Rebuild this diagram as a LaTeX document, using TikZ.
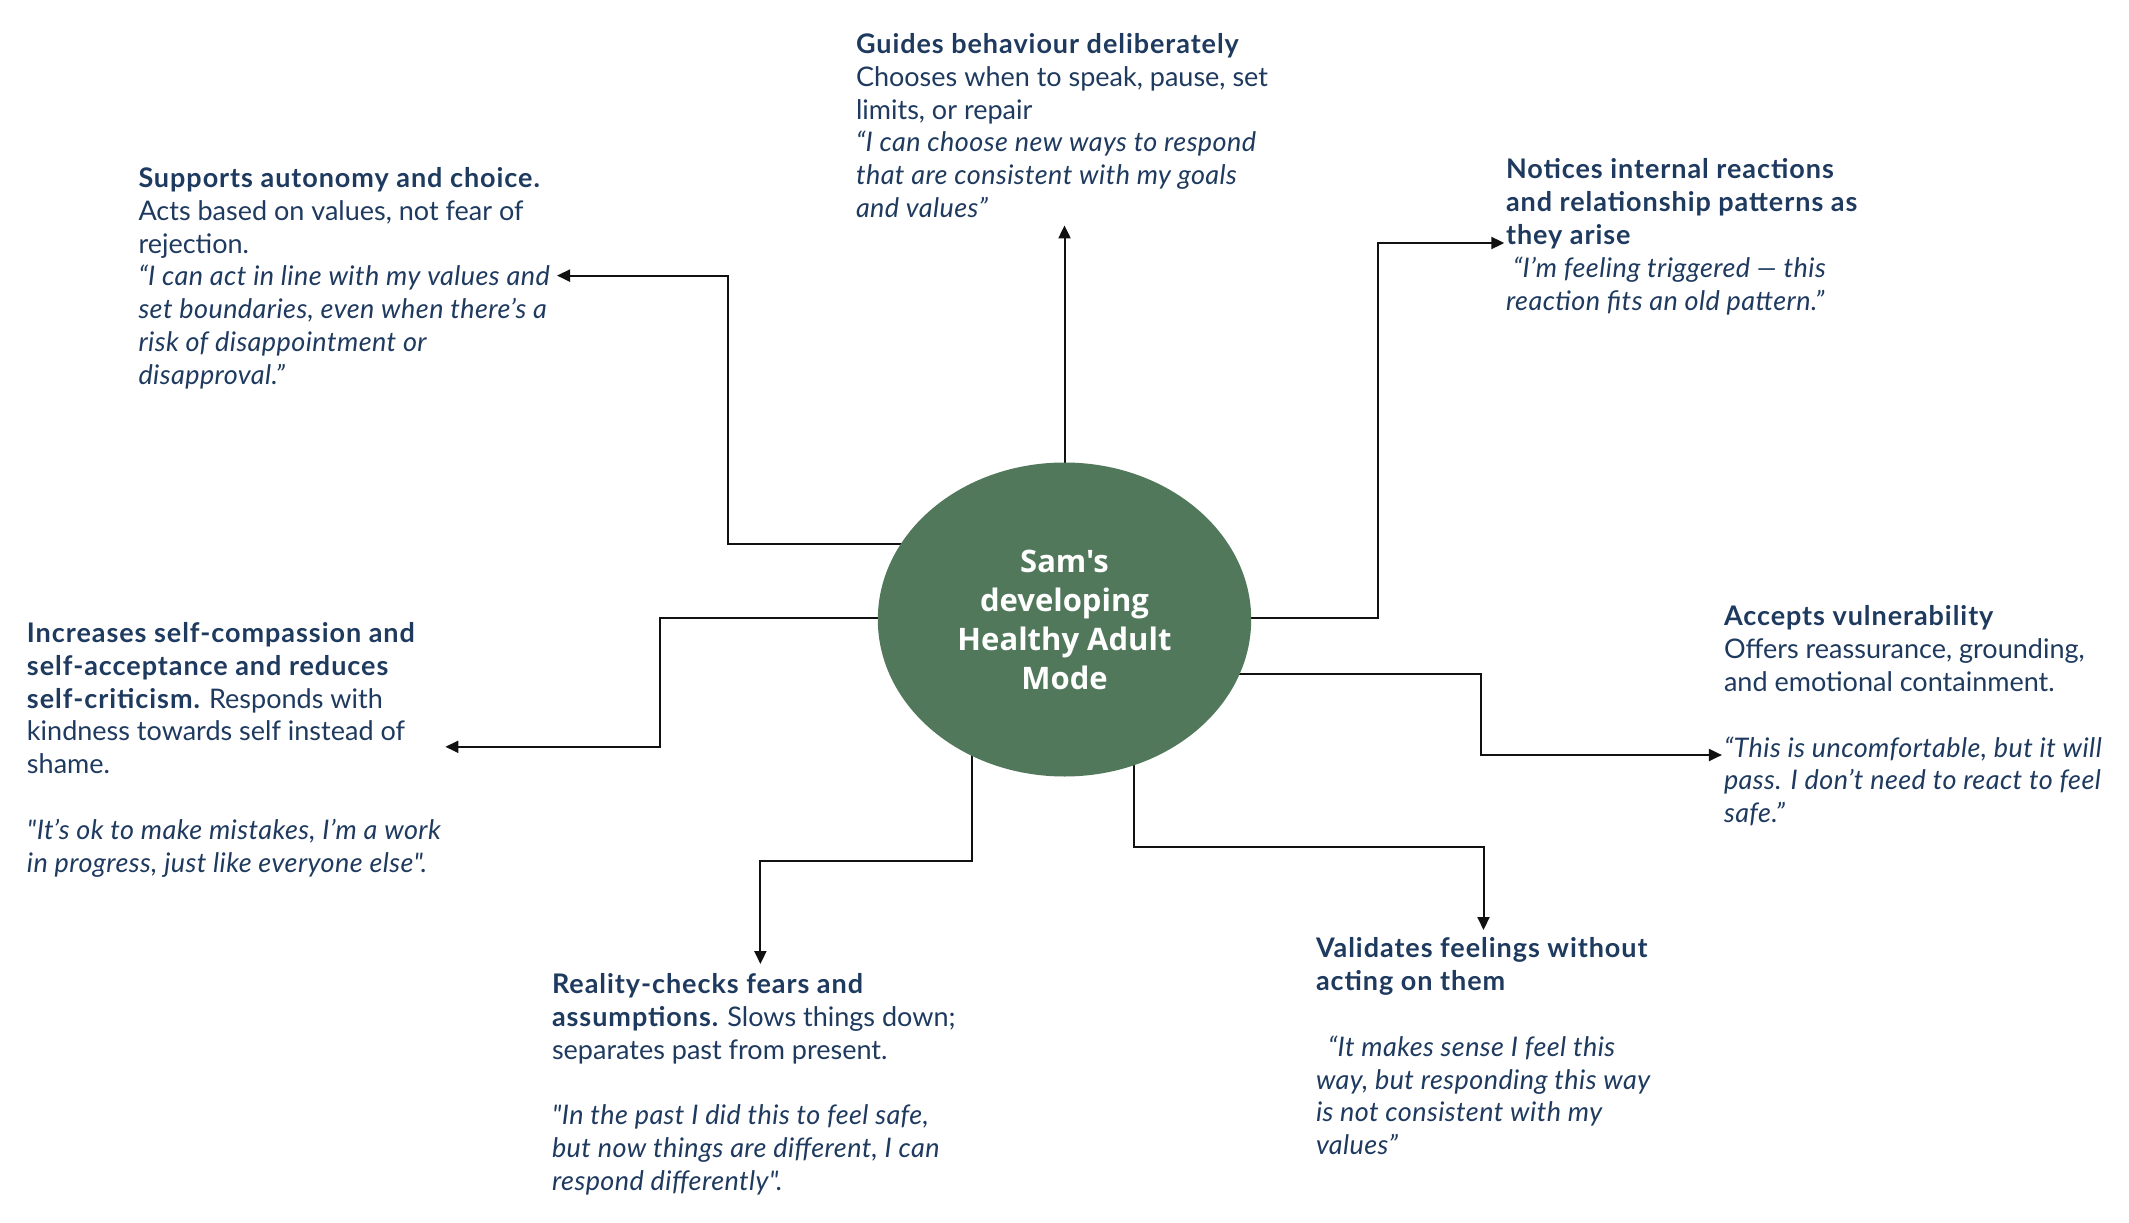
\documentclass[tikz,border=0pt]{standalone}
\usepackage{fontspec}
\setmainfont{Lato}[Ligatures=TeXOff]
\newfontfamily\ctrfont{Open Sans}[Ligatures=TeXOff]
\usetikzlibrary{shapes.geometric,arrows.meta,backgrounds,positioning}
\definecolor{navy}{HTML}{1F3A5F}
\definecolor{ellgreen}{HTML}{52785C}
\definecolor{linecol}{HTML}{111111}
\newcommand{\bodyfont}{\fontsize{27}{32.8}\selectfont}
\newcommand{\hb}[1]{{\bfseries\addfontfeatures{LetterSpace=3.5}#1}}
\newcommand{\qt}[1]{{\itshape\addfontfeatures{LetterSpace=1.6}#1}}
\tikzset{
  txt/.style={anchor=north west, inner sep=0pt, outer sep=0pt, align=left, text=navy, font=\bodyfont},
  conn/.style={draw=linecol, line width=2pt, -{Triangle[length=13pt,width=12pt]}},
  centre/.style={ellipse, fill=ellgreen, minimum width=373.4pt, minimum height=314pt, inner sep=0pt,
    text=white, align=center, font=\ctrfont\bfseries\fontsize{31}{39}\selectfont}
}
\begin{document}
\begin{tikzpicture}[x=1pt,y=-1pt]
\useasboundingbox (0,0) rectangle (2129,1223);

\node[centre] (c) at (1064.5,619.5) {Sam's\\developing\\Healthy Adult\\Mode};

% text blocks (top = baseline - 0.7*32.8)
\node[txt] (A) at (138.5,164.5) {\strut\hb{Supports autonomy and choice.}\\
Acts based on values, not fear of\\
rejection.\\
\qt{“I can act in line with my values and}\\
\qt{set boundaries, even when there’s a}\\
\qt{risk of disappointment or}\\
\qt{disapproval.”}};

\node[txt] (B) at (856,30.5) {\strut\hb{Guides behaviour deliberately}\\
Chooses when to speak, pause, set\\
limits, or repair\\
\qt{“I can choose new ways to respond}\\
\qt{that are consistent with my goals}\\
\qt{and values”}};

\node[txt] (C) at (1506,156.0) {\strut\hb{Notices internal reactions}\\
\hb{and relationship patterns as}\\
\hb{they arise}\\
\hspace*{7pt}\qt{“I’m feeling triggered — this}\\
\qt{reaction fits an old pattern.”}};

\node[txt] (D) at (27,619.5) {\strut\hb{Increases self-compassion and}\\
\hb{self-acceptance and reduces}\\
\hb{self-criticism.} Responds with\\
kindness towards self instead of\\
shame.\\[32.8pt]
\qt{"It’s ok to make mistakes, I’m a work}\\
\qt{in progress, just like everyone else".}};

\node[txt] (E) at (1724,603.0) {\strut\hb{Accepts vulnerability}\\
Offers reassurance, grounding,\\
and emotional containment.\\[32.8pt]
\qt{“This is uncomfortable, but it will}\\
\qt{pass. I don’t need to react to feel}\\
\qt{safe.”}};

\node[txt] (F) at (552,970.5) {\strut\hb{Reality-checks fears and}\\
\hb{assumptions.} Slows things down;\\
separates past from present.\\[32.8pt]
\qt{"In the past I did this to feel safe,}\\
\qt{but now things are different, I can}\\
\qt{respond differently".}};

\node[txt] (G) at (1316,935.0) {\strut\hb{Validates feelings without}\\
\hb{acting on them}\\[32.8pt]
\hspace*{12pt}\qt{“It makes sense I feel this}\\
\qt{way, but responding this way}\\
\qt{is not consistent with my}\\
\qt{values”}};

% arrow tips
\coordinate (tA) at (557,275.6);
\coordinate (tB) at (1064.5,225.4);
\coordinate (tC) at (1504.3,243);
\coordinate (tD) at (445.4,746.8);
\coordinate (tE) at (1721.9,755);
\coordinate (tF) at (760.4,964);
\coordinate (tG) at (1483.5,930);

\begin{pgfonlayer}{background}
\fill[white] (0,0) rectangle (2129,1223);
\draw[conn] ([yshift=75.3pt]c.center) -| (727.8,275.6) -- (tA);
\draw[conn] (c.center) -- (tB);
\draw[conn] ([yshift=2pt]c.center) -| (1378.2,243) -- (tC);
\draw[conn] ([yshift=2pt]c.center) -| (659.9,746.8) -- (tD);
\draw[conn] ([yshift=-54pt]c.center) -| (1481.4,755) -- (tE);
\draw[conn] ([xshift=-92.3pt]c.center) |- (760.4,860.8) -- (tF);
\draw[conn] ([xshift=69.3pt]c.center) |- (1483.5,847.3) -- (tG);
\end{pgfonlayer}
\end{tikzpicture}
\end{document}
